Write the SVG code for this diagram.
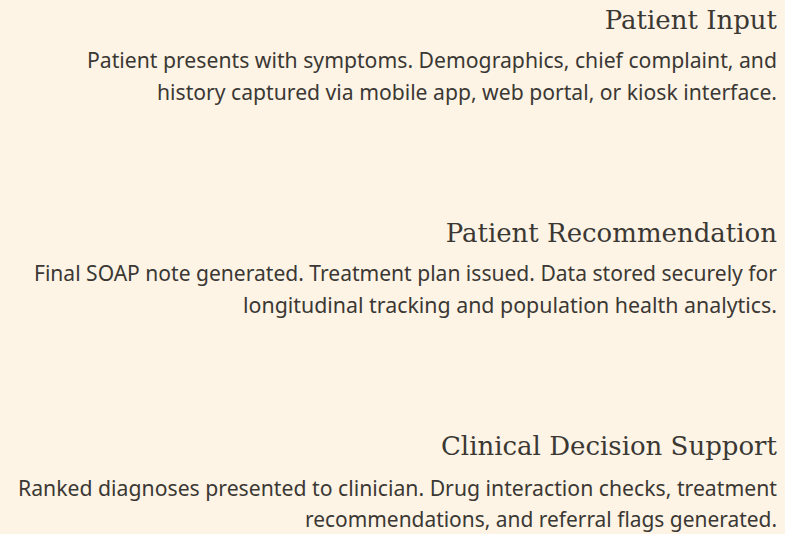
<svg xmlns="http://www.w3.org/2000/svg" width="785" height="534" viewBox="0 0 785 534">
<style>
.bg{fill:#fdf4e6}
.title{font-family:"DejaVu Serif","Liberation Serif",serif;font-size:26px;fill:#3b3834;text-anchor:end}
.body{font-family:"Noto Sans","Liberation Sans",sans-serif;font-size:21px;fill:#3b3834;text-anchor:end}
</style>
<rect class="bg" x="0" y="0" width="785" height="534"/>
<g id="connectors"/>
<g id="node-patient-input">
<text class="title" x="777" y="29">Patient Input</text>
<text class="body" x="777" y="68" textLength="690" lengthAdjust="spacingAndGlyphs">Patient presents with symptoms. Demographics, chief complaint, and</text>
<text class="body" x="777" y="100" textLength="620" lengthAdjust="spacingAndGlyphs">history captured via mobile app, web portal, or kiosk interface.</text>
</g>
<g id="node-patient-recommendation">
<text class="title" x="777" y="242">Patient Recommendation</text>
<text class="body" x="777" y="281" textLength="743" lengthAdjust="spacingAndGlyphs">Final SOAP note generated. Treatment plan issued. Data stored securely for</text>
<text class="body" x="777" y="313" textLength="534" lengthAdjust="spacingAndGlyphs">longitudinal tracking and population health analytics.</text>
</g>
<g id="node-clinical-decision-support">
<text class="title" x="777" y="455">Clinical Decision Support</text>
<text class="body" x="777" y="496" textLength="759" lengthAdjust="spacingAndGlyphs">Ranked diagnoses presented to clinician. Drug interaction checks, treatment</text>
<text class="body" x="777" y="527" textLength="472" lengthAdjust="spacingAndGlyphs">recommendations, and referral flags generated.</text>
</g>
</svg>
